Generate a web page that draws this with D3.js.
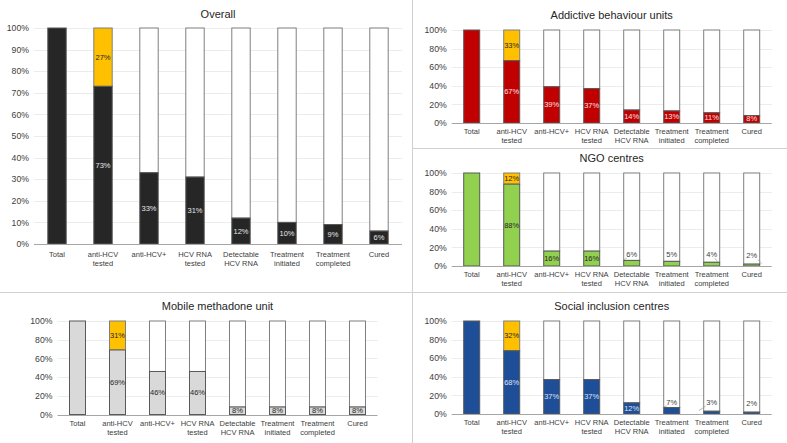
<!DOCTYPE html>
<html><head><meta charset="utf-8">
<script src="https://cdn.jsdelivr.net/npm/d3@7"></script>
<style>
body{margin:0;background:#fff;}
svg{display:block;font-family:"Liberation Sans",Arial,sans-serif;}
</style></head>
<body>
<svg id="c" width="787" height="443"></svg>
<script>
const categories = ["Total","anti-HCV tested","anti-HCV+","HCV RNA tested","Detectable HCV RNA","Treatment initiated","Treatment completed","Cured"];
const categoryLines = [["Total"],["anti-HCV","tested"],["anti-HCV+"],["HCV RNA","tested"],["Detectable","HCV RNA"],["Treatment","initiated"],["Treatment","completed"],["Cured"]];
const titles = ["Overall","Addictive behaviour units","NGO centres","Mobile methadone unit","Social inclusion centres"];
const overallValues = [100,73,33,31,12,10,9,6];
const addictiveValues = [100,67,39,37,14,13,11,8];
const ngoValues = [100,88,16,16,6,5,4,2];
const mobileValues = [100,69,46,46,8,8,8,8];
const socialValues = [100,68,37,37,12,7,3,2];
const notTestedValues = [27,33,12,31,32];
const overallTicks = [0,10,20,30,40,50,60,70,80,90,100];
const panelTicks = [0,20,40,60,80,100];

const svg = d3.select("#c");
const ORANGE = "#FFC000";

// dividers
svg.append("line").attr("x1",412.5).attr("x2",412.5).attr("y1",0).attr("y2",443).attr("stroke","#d0d0d0").attr("stroke-width",1);
svg.append("line").attr("x1",0).attr("x2",787).attr("y1",292.5).attr("y2",292.5).attr("stroke","#d0d0d0").attr("stroke-width",1);
svg.append("line").attr("x1",412.5).attr("x2",787).attr("y1",148.5).attr("y2",148.5).attr("stroke","#d0d0d0").attr("stroke-width",1);

// leader line styling for labels placed above small bars: [dx1, dx2] offsets (style only)
const leaderStyle = {
  "NGO centres": {4:[-5,-8], 6:[3,6], 7:[6,10]},
  "Social inclusion centres": {5:[-5,-9], 6:[-6,-13]}
};

const panels = [
  {title:titles[0], values:overallValues, orange:notTestedValues[0], color:"#262626", lab:"#e6e6e6", ticks:overallTicks,
   x0:34, x1:402, yT:28, yB:244, titleY:14, small:false},
  {title:titles[1], values:addictiveValues, orange:notTestedValues[1], color:"#C00000", lab:"#f8e0e0", ticks:panelTicks,
   x0:451.7, x1:771.7, yT:30, yB:123, titleY:15, small:false},
  {title:titles[2], values:ngoValues, orange:notTestedValues[2], color:"#92D050", lab:"#262626", ticks:panelTicks,
   x0:451.7, x1:771.7, yT:173, yB:266, titleY:158, small:true},
  {title:titles[3], values:mobileValues, orange:notTestedValues[3], color:"#D9D9D9", lab:"#262626", ticks:panelTicks,
   x0:57.5, x1:377.5, yT:321, yB:414.5, titleY:306, small:false},
  {title:titles[4], values:socialValues, orange:notTestedValues[4], color:"#1F4E99", lab:"#dbe4f3", ticks:panelTicks,
   x0:451.7, x1:771.7, yT:321, yB:414, titleY:305.7, small:true}
];

panels.forEach(p => {
  const g = svg.append("g");
  const x = d3.scaleBand().domain(categories).range([p.x0,p.x1]).paddingInner(0.6).paddingOuter(0.3);
  const y = d3.scaleLinear().domain([0,100]).range([p.yB,p.yT]);
  const bw = x.bandwidth();

  g.append("text").attr("x",(p.x0+p.x1)/2).attr("y",p.titleY).attr("text-anchor","middle")
   .attr("dominant-baseline","central").attr("font-size",11).attr("fill","#262626").text(p.title);

  g.append("g").selectAll("line").data(p.ticks.filter(t=>t>0)).join("line")
   .attr("x1",p.x0).attr("x2",p.x1).attr("y1",d=>Math.round(y(d))+0.5).attr("y2",d=>Math.round(y(d))+0.5)
   .attr("stroke","#ececec").attr("stroke-width",1);

  const ya = g.append("g").attr("transform",`translate(${p.x0-5},0)`)
   .call(d3.axisLeft(y).tickValues(p.ticks).tickSize(0).tickPadding(0).tickFormat(d=>d+"%"));
  ya.select(".domain").remove();
  ya.selectAll("text").attr("font-size",8.7).attr("fill","#404040").attr("font-family","Liberation Sans, Arial, sans-serif");

  const bars = g.append("g");
  p.values.forEach((v,i) => {
    const c = categories[i];
    const bx = x(c);
    if (i > 0) {
      bars.append("rect").attr("x",bx).attr("width",bw).attr("y",y(100)).attr("height",y(v)-y(100))
        .attr("fill", i === 1 ? ORANGE : "#fff").attr("stroke","#7f7f7f").attr("stroke-width",1);
    }
    bars.append("rect").attr("x",bx).attr("width",bw).attr("y",y(v)).attr("height",y(0)-y(v))
      .attr("fill",p.color).attr("stroke","#595959").attr("stroke-width",1);
  });

  g.append("line").attr("x1",p.x0).attr("x2",p.x1).attr("y1",Math.round(y(0))+0.5).attr("y2",Math.round(y(0))+0.5)
   .attr("stroke","#a6a6a6").attr("stroke-width",1);

  const lg = g.append("g").attr("font-size",7.5).attr("text-anchor","middle").attr("dominant-baseline","central");
  p.values.forEach((v,i) => {
    if (i === 0) return;
    const cx = x(categories[i]) + bw/2;
    if (p.small && v < 10) {
      const ly = y(0) - 12 + (v <= 2 ? 1.5 : 0);
      lg.append("text").attr("x",cx).attr("y",ly).attr("fill","#404040").text(v+"%");
      const ls = (leaderStyle[p.title]||{})[i];
      if (ls) {
        lg.append("line").attr("x1",cx + ls[0]).attr("y1",ly + 4).attr("x2",cx + ls[1]).attr("y2",y(v) - 0.5)
          .attr("stroke","#a6a6a6").attr("stroke-width",0.8);
      }
    } else {
      let cy = (y(0)+y(v))/2;
      cy = Math.min(cy, y(0)-4.5);
      lg.append("text").attr("x",cx).attr("y",cy).attr("fill",p.lab).text(v+"%");
    }
    if (i === 1) {
      lg.append("text").attr("x",cx).attr("y",(y(v)+y(100))/2).attr("fill","#262626").text(p.orange+"%");
    }
  });

  const xa = g.append("g").attr("transform",`translate(0,${y(0)})`)
   .call(d3.axisBottom(x).tickSize(0).tickPadding(0).tickFormat(""));
  xa.select(".domain").remove();
  xa.selectAll(".tick").each(function(d,i){
    const t = d3.select(this).append("text").attr("font-size",7.5).attr("fill","#404040")
      .attr("text-anchor","middle").attr("font-family","Liberation Sans, Arial, sans-serif");
    categoryLines[i].forEach((ln,k)=>{
      t.append("tspan").attr("x",0).attr("y",(p.title==="Overall"?10:8.7) + k*9.2).attr("dominant-baseline","central").text(ln);
    });
  });
});
</script>
</body></html>
